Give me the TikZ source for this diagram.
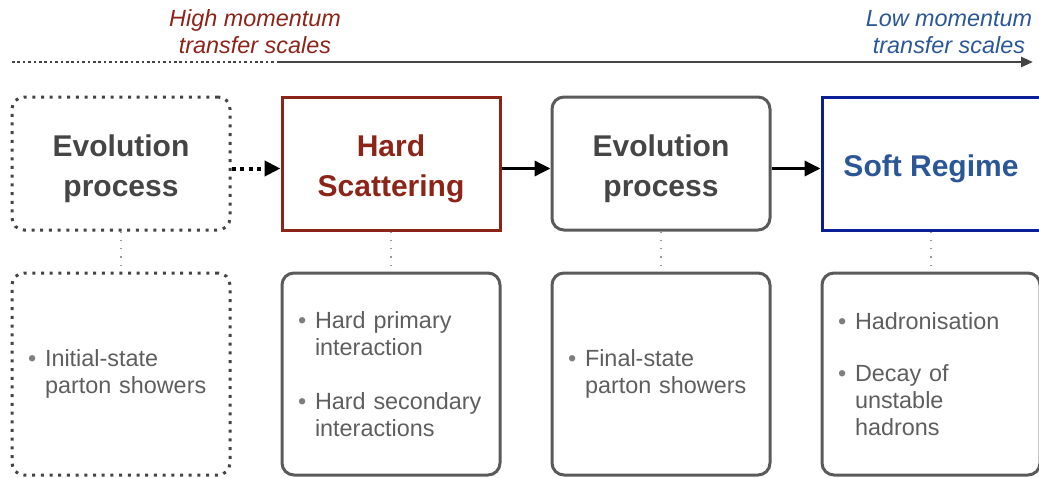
\documentclass[tikz,border=0pt]{standalone}
\usepackage{fontspec}
\setmainfont{Liberation Sans}
\usetikzlibrary{arrows.meta}
\usetikzlibrary{positioning}

\definecolor{hardred}{HTML}{8C2418}
\definecolor{softblue}{HTML}{2B5797}
\definecolor{softline}{HTML}{0A1F96}
\definecolor{boxgray}{HTML}{5A5A5A}
\definecolor{headgray}{HTML}{454545}
\definecolor{itemgray}{HTML}{5E5E5E}
\definecolor{axisgray}{HTML}{444444}

\newcommand{\bul}{\makebox[17pt][l]{\textcolor{itemgray!80}{\textbullet}}}
\newcommand{\ind}{\hspace*{17pt}}
\newcommand{\headtext}[1]{\raisebox{-5pt}[\height][\depth]{\begin{tabular}{@{}c@{}}#1\end{tabular}}}

\begin{document}
\begin{tikzpicture}[x=1pt, y=1pt,
  stage/.style={rectangle, draw=boxgray, line width=3pt, rounded corners=12pt, minimum width=218pt, minimum height=133pt, text=headgray, font=\fontsize{30}{40}\selectfont\bfseries},
  detail/.style={rectangle, draw=boxgray, line width=3pt, rounded corners=12pt, minimum height=202pt, inner xsep=16pt, text width=186pt, align=left, text=itemgray, font=\fontsize{23.4}{27}\selectfont},
  dotline/.style={dash pattern=on 3pt off 5.7pt},
  scale label/.style={align=center, font=\fontsize{23.4}{27}\selectfont\itshape},
  flow/.style={line width=3.5pt, -{Triangle[length=16pt, width=15pt]}},
  link/.style={draw=gray!80, line width=1.3pt, dash pattern=on 1.3pt off 7pt},
  node distance=49pt]

\useasboundingbox (0,0) rectangle (1039,-477);

% scale axis
\coordinate (axisL) at (12,-62);
\coordinate (axisM) at (278,-62);
\coordinate (axisR) at (1033,-62);
\draw[axisgray, line width=2.6pt, dash pattern=on 2.6pt off 2.8pt] (axisL) -- (axisM);
\draw[axisgray, line width=2.6pt, -{Triangle[length=12pt, width=10pt]}] (axisM) -- (axisR);

\node[scale label, text=hardred] (high) at (255,-32) {High momentum\\transfer scales};
\node[scale label, text=softblue] (low) at (949,-32) {Low momentum\\transfer scales};

% stages
\node[stage, dotline, draw=axisgray] (initevo) at (121,-163.5) {\headtext{Evolution\\process}};
\node[stage, right=of initevo, draw=hardred, text=hardred, sharp corners] (hard) {\headtext{Hard\\Scattering}};
\node[stage, right=of hard] (finalevo) {\headtext{Evolution\\process}};
\node[stage, right=of finalevo, draw=softline, text=softblue, sharp corners] (soft) {\headtext{Soft Regime}};

% details
\node[detail, dotline, draw=axisgray, below=40pt of initevo] (initsh) {\bul Initial-state\\\ind parton showers};
\node[detail, below=40pt of hard] (hardint) {\bul Hard primary\\\ind interaction\\[27pt]\bul Hard secondary\\\ind interactions};
\node[detail, below=40pt of finalevo] (finalsh) {\bul Final-state\\\ind parton showers};
\node[detail, below=40pt of soft] (hadro) {\bul Hadronisation\\[25pt]\bul Decay of\\\ind unstable\\\ind hadrons};

\draw[flow, line width=4pt, dash pattern=on 4pt off 4.5pt] ([yshift=-5pt]initevo.east) -- ([yshift=-5pt]hard.west);
\draw[flow] ([yshift=-5pt]hard.east) -- ([yshift=-5pt]finalevo.west);
\draw[flow] ([yshift=-5pt]finalevo.east) -- ([yshift=-5pt]soft.west);

\draw[link] (initevo) -- (initsh);
\draw[link] (hard) -- (hardint);
\draw[link] (finalevo) -- (finalsh);
\draw[link] (soft) -- (hadro);

\end{tikzpicture}
\end{document}
